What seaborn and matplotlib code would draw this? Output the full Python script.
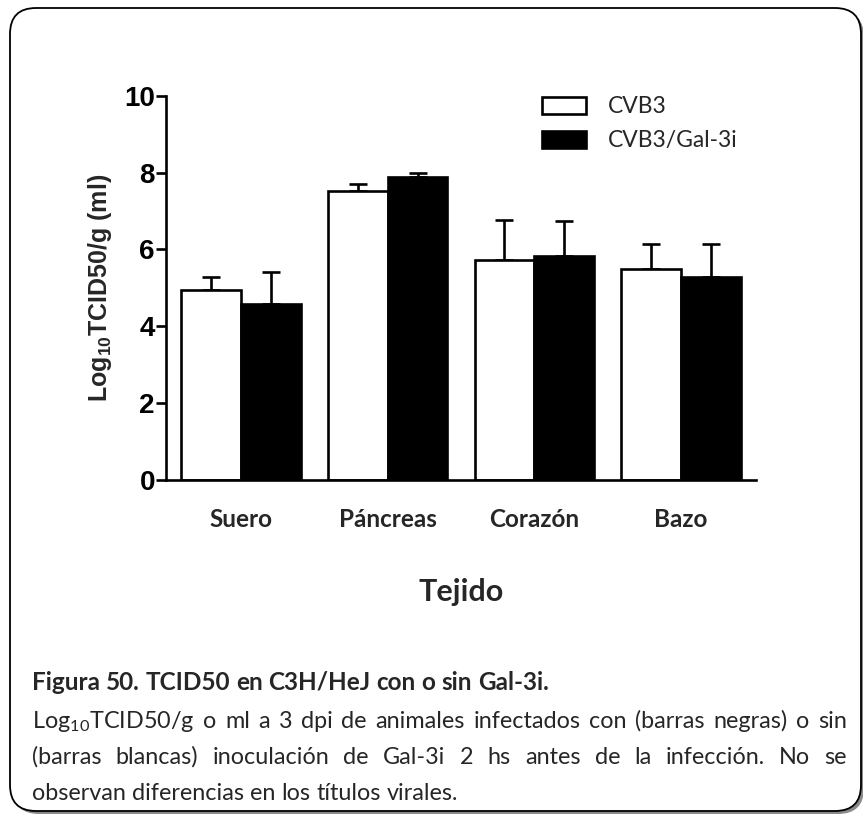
import matplotlib
matplotlib.use("Agg")
import matplotlib.pyplot as plt
from matplotlib.patches import FancyBboxPatch
from matplotlib.transforms import IdentityTransform
import numpy as np
import pandas as pd
import seaborn as sns

# ---- data -------------------------------------------------------------
tejidos = ["Suero", "Páncreas", "Corazón", "Bazo"]
grupos = ["CVB3", "CVB3/Gal-3i"]
media_cvb3 = [4.95, 7.52, 5.72, 5.50]
media_gal3i = [4.58, 7.88, 5.83, 5.28]
sem_cvb3 = [0.32, 0.19, 1.04, 0.65]
sem_gal3i = [0.84, 0.10, 0.90, 0.87]
yticks = [0, 2, 4, 6, 8, 10]

df = pd.DataFrame({
    "Tejido": tejidos * 2,
    "valor": media_cvb3 + media_gal3i,
    "sem": sem_cvb3 + sem_gal3i,
    "grupo": [grupos[0]] * 4 + [grupos[1]] * 4,
})

# ---- style ------------------------------------------------------------
sns.set_style("ticks")
plt.rcParams["font.family"] = ["Lato", "DejaVu Sans"]
plt.rcParams["mathtext.fontset"] = "custom"
plt.rcParams["mathtext.rm"] = "Lato"
plt.rcParams["mathtext.bf"] = "Liberation Sans:bold"

W, H = 863, 814
fig = plt.figure(figsize=(W / 100, H / 100), dpi=100)
fig.patch.set_facecolor("white")


def fx(px):
    return px / W


def fy(py):
    return 1 - py / H


# rounded frame with a soft shadow, kept behind the axes
shadow = FancyBboxPatch((13, 0), 851, 803, boxstyle="round,pad=0,rounding_size=26",
                        transform=IdentityTransform(), facecolor="#8a8a8a",
                        edgecolor="none", zorder=-2)
frame = FancyBboxPatch((10, 3), 851, 803, boxstyle="round,pad=0,rounding_size=26",
                       transform=IdentityTransform(), facecolor="white",
                       edgecolor="black", linewidth=1.3, zorder=-1)
fig.patches.extend([shadow, frame])

ax = fig.add_axes([fx(166), fy(480), fx(756) - fx(166), fy(95.7) - fy(480)])
ax.set_facecolor("none")

sns.barplot(data=df, x="Tejido", y="valor", hue="grupo", order=tejidos,
            hue_order=grupos, palette=["white", "black"], edgecolor="black",
            linewidth=1.9, width=0.815, gap=0, errorbar=None, ax=ax,
            legend=False, zorder=2)

# upward-only SEM bars on each bar
for cont, sems in zip(ax.containers, [sem_cvb3, sem_gal3i]):
    xs = [b.get_x() + b.get_width() / 2 for b in cont]
    ys = [b.get_height() for b in cont]
    ax.errorbar(xs, ys, yerr=[np.zeros(len(sems)), sems], fmt="none",
                ecolor="black", elinewidth=1.9, capsize=6.2, capthick=1.9,
                zorder=1.5)

ax.set_ylim(0, 10)
ax.set_xlim(-0.51, 3.51)
ax.set_yticks(yticks)
ax.set_yticklabels([str(v) for v in yticks], fontfamily="Liberation Sans",
                   fontweight="bold", fontsize=20)
ax.tick_params(axis="y", length=7, width=1.9, pad=1, colors="black")
ax.tick_params(axis="x", length=0, pad=20)
for lab in ax.get_xticklabels():
    lab.set_fontweight("bold")
    lab.set_fontsize(17.5)
for s in ["top", "right"]:
    ax.spines[s].set_visible(False)
for s in ["left", "bottom"]:
    ax.spines[s].set_linewidth(1.9)
    ax.spines[s].set_color("black")

ax.set_ylabel(r"Log$_{\mathbf{10}}$TCID50/g (ml)", fontfamily="Liberation Sans",
              fontweight="bold", fontsize=18, labelpad=7)
ax.set_xlabel("Tejido", fontweight="bold", fontsize=22, labelpad=34)

ax.legend(ax.containers, grupos, loc="upper left", bbox_to_anchor=(0.637, 0.998),
          frameon=False, fontsize=16.5, handlelength=1.92, handleheight=0.74,
          handletextpad=0.96, labelspacing=0.56, borderpad=0, borderaxespad=0)

# ---- caption ----------------------------------------------------------
renderer = fig.canvas.get_renderer()
X0, X1 = 32, 847
cap_size = 16.8


def word_width(word, **kw):
    t = fig.text(0, 0, word, **kw)
    w = t.get_window_extent(renderer).width
    t.remove()
    return w


def draw_line(text, y, justify, **kw):
    words = text.split(" ")
    widths = [word_width(w, **kw) for w in words]
    if justify and len(words) > 1:
        gap = (X1 - X0 - sum(widths)) / (len(words) - 1)
    else:
        gap = word_width("a a", **kw) - word_width("aa", **kw)
    x = X0
    for w, wd in zip(words, widths):
        fig.text(fx(x), fy(y), w, va="baseline", ha="left", **kw)
        x += wd + gap


draw_line("Figura 50. TCID50 en C3H/HeJ con o sin Gal-3i.", 690, False,
          fontsize=17.5, fontweight="bold")
draw_line(r"Log$_{10}$TCID50/g o ml a 3 dpi de animales infectados con (barras negras) o sin",
          728, True, fontsize=cap_size)
draw_line("(barras blancas) inoculación de Gal-3i 2 hs antes de la infección. No se",
          764, True, fontsize=cap_size)
draw_line("observan diferencias en los títulos virales.", 800, False, fontsize=cap_size)

fig.savefig("out.png", dpi=100)
